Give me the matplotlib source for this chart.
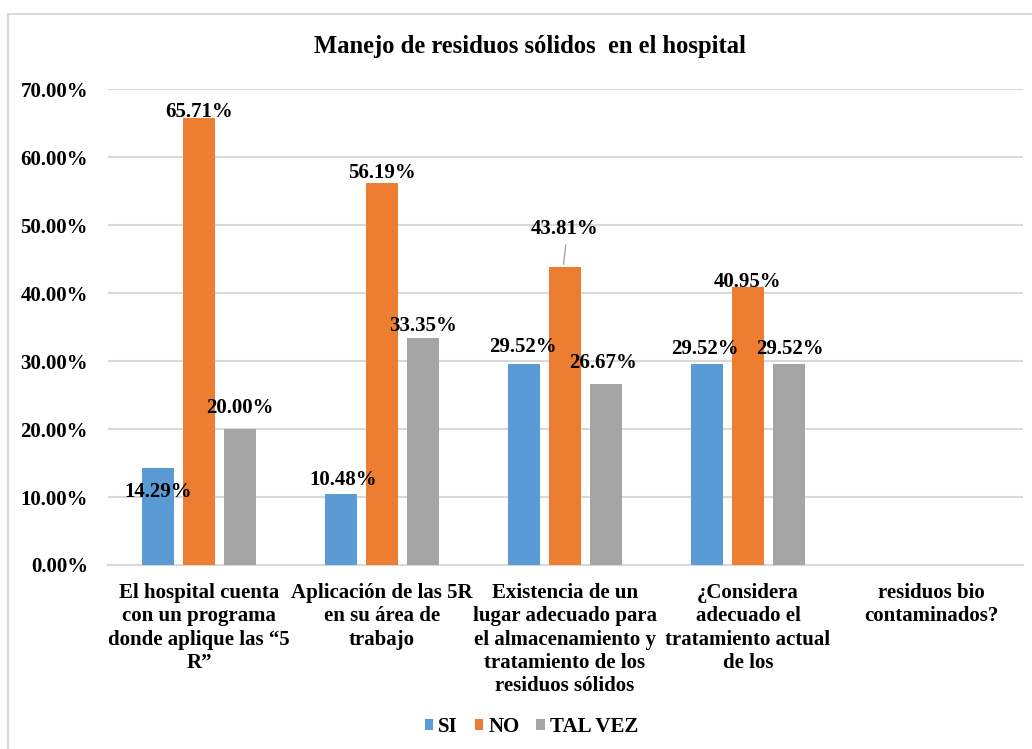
import matplotlib
matplotlib.use('Agg')
import matplotlib.pyplot as plt
from matplotlib.lines import Line2D
import numpy as np

# datos
categorias = ['El hospital cuenta\ncon un programa\ndonde aplique las \u201c5\nR\u201d',
              'Aplicación de las 5R\nen su área de\ntrabajo',
              'Existencia de un\nlugar adecuado para\nel almacenamiento y\ntratamiento de los\nresiduos sólidos',
              '¿Considera\nadecuado el\ntratamiento actual\nde los',
              'residuos bio\ncontaminados?']
si = [14.29, 10.48, 29.52, 29.52, np.nan]
no = [65.71, 56.19, 43.81, 40.95, np.nan]
tal_vez = [20.00, 33.35, 26.67, 29.52, np.nan]
series = ['SI', 'NO', 'TAL VEZ']
colores = ['#5B9BD5', '#ED7D31', '#A5A5A5']

# desplazamiento (px) de cada etiqueta respecto a la punta de la barra
off_si = [(0, -24), (2, 14), (-1, 17), (-2, 15)]
off_no = [(0, 6), (0, 10), (0, 38), (0, 5)]
off_tv = [(0, 21), (0, 12), (-3, 21), (1, 15)]

plt.rcParams['font.family'] = ['Liberation Serif', 'DejaVu Serif']
plt.rcParams['font.weight'] = 'bold'

fig = plt.figure(figsize=(10.32, 7.49), dpi=100)
ax = fig.add_axes([107.5/1032, 1-565/749, 915/1032, 476/749])

x = np.arange(len(categorias))
w = 0.175
paso = 0.224
datos = [si, no, tal_vez]
offs = [off_si, off_no, off_tv]
fs = 15
for i, (vals, c, nom) in enumerate(zip(datos, colores, series)):
    xs = x + (i-1)*paso
    ax.bar(xs, np.array(vals)/100, width=w, color=c, label=nom, zorder=3)
    for j, v in enumerate(vals):
        if np.isnan(v):
            continue
        dx, dy = offs[i][j]
        ax.annotate('%.2f%%' % v, (xs[j], v/100), xytext=(dx*0.72, dy*0.72),
                    textcoords='offset points', ha='center', va='center',
                    fontsize=fs, fontweight='bold', zorder=5)
        if i == 1 and j == 2:
            # linea guia de la etiqueta 43.81%
            ax.annotate('', (xs[j]-0.01, v/100), xytext=(3*0.72, 25*0.72),
                        textcoords='offset points',
                        arrowprops=dict(arrowstyle='-', color='#A6A6A6', lw=1))

ax.set_xlim(-0.5, len(categorias)-0.5)
ax.set_ylim(0, 0.7)
ax.set_yticks(np.arange(0, 0.71, 0.1))
ax.set_yticklabels(['%.2f%%' % (t*100) for t in np.arange(0, 0.71, 0.1)],
                   fontsize=fs, fontweight='bold')
ax.set_xticks(x)
ax.set_xticklabels(categorias, fontsize=fs, fontweight='bold', linespacing=1.22)
ax.tick_params(axis='both', length=0)
ax.tick_params(axis='y', pad=14)
ax.tick_params(axis='x', pad=13)
ax.grid(axis='y', color='#D9D9D9', linewidth=1.5, zorder=0)
for s in ['top', 'right', 'left']:
    ax.spines[s].set_visible(False)
ax.spines['bottom'].set_color('#D9D9D9')
ax.spines['bottom'].set_linewidth(1.5)

fig.text(530/1032, 1-47/749, 'Manejo de residuos sólidos  en el hospital',
         ha='center', va='center', fontsize=17.7, fontweight='bold')

leg = fig.legend(loc='center', bbox_to_anchor=(531.5/1032, 1-727/749), ncol=3,
                 frameon=False, fontsize=fs, handlelength=0.4, handleheight=0.4,
                 handletextpad=0.25, columnspacing=0.8)

# borde del area del grafico
fig.add_artist(Line2D([8/1032, 1], [1-14/749, 1-14/749], color='#D9D9D9', lw=1.5))
fig.add_artist(Line2D([8/1032, 8/1032], [0, 1-14/749], color='#D9D9D9', lw=1.5))

fig.savefig('out.png', dpi=100)
